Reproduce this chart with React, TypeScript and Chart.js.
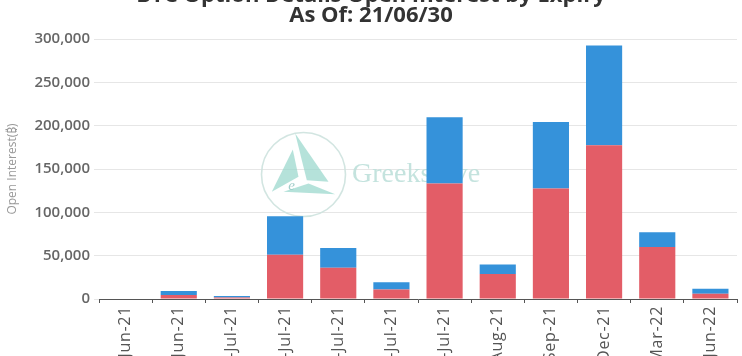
import React, { useEffect, useRef } from "react";
import { Chart, registerables } from "chart.js";

Chart.register(...registerables);

const titleLines = ["BTC Option Details Open Interest by Expiry", "As Of: 21/06/30"];
const expiries = [
  "29-Jun-21", "30-Jun-21", "1-Jul-21", "2-Jul-21", "9-Jul-21", "16-Jul-21",
  "30-Jul-21", "27-Aug-21", "24-Sep-21", "31-Dec-21", "25-Mar-22", "24-Jun-22",
];
const redValues = [0, 4600, 1800, 51100, 36100, 11000, 133300, 28900, 127500, 177300, 60000, 6000];
const blueValues = [0, 4700, 1700, 44400, 22700, 8400, 76400, 11000, 76800, 115300, 17000, 5800];
const yTitle = "Open Interest(₿)";
const watermarkText = "Greeks.live";

const FONT = "'Open Sans', 'Noto Sans', 'DejaVu Sans', sans-serif";

const watermarkPlugin = {
  id: "watermark",
  afterLayout(chart: any) {
    const xs = chart.scales.x;
    if (xs && !xs.__spaced) {
      const orig = xs.drawLabels;
      xs.drawLabels = function (area: any) {
        const ctx = this.ctx;
        ctx.save();
        (ctx as any).letterSpacing = "0.7px";
        orig.call(this, area);
        ctx.restore();
      };
      xs.__spaced = true;
    }
  },
  beforeDatasetsDraw(chart: any) {
    const { ctx, chartArea: a } = chart;
    const cx = a.left + 204.5;
    const cy = a.top + 135.5;
    ctx.save();
    ctx.beginPath();
    ctx.arc(cx, cy, 42, 0, Math.PI * 2);
    ctx.strokeStyle = "rgba(205, 226, 222, 0.9)";
    ctx.lineWidth = 1.6;
    ctx.stroke();
    const tris = [
      [[-31.7, 17.3], [-10.7, -25], [-5, 2.3]],
      [[-8.3, -41], [25, 7.3], [3.3, 5.7]],
      [[-20, 17.3], [31.7, 19.7], [5, 9]],
    ];
    ctx.fillStyle = "rgba(150, 214, 203, 0.7)";
    for (const t of tris) {
      ctx.beginPath();
      ctx.moveTo(cx + t[0][0], cy + t[0][1]);
      ctx.lineTo(cx + t[1][0], cy + t[1][1]);
      ctx.lineTo(cx + t[2][0], cy + t[2][1]);
      ctx.closePath();
      ctx.fill();
    }
    ctx.fillStyle = "rgba(150, 200, 195, 0.9)";
    ctx.font = "italic 15px 'Liberation Serif', serif";
    ctx.textAlign = "center";
    ctx.textBaseline = "middle";
    ctx.fillText("e", cx - 12, cy + 12);
    ctx.fillStyle = "rgba(190, 224, 218, 0.9)";
    ctx.font = "28px 'Liberation Serif', serif";
    ctx.textAlign = "left";
    ctx.textBaseline = "alphabetic";
    ctx.fillText(watermarkText, cx + 48.5, cy + 7.5);
    ctx.restore();
  },
};

export default function App() {
  const ref = useRef<HTMLCanvasElement | null>(null);
  useEffect(() => {
    if (!ref.current) return;
    const chart = new Chart(ref.current, {
      type: "bar",
      data: {
        labels: expiries,
        datasets: [
          { label: "Red", data: redValues, backgroundColor: "#e35d67", barPercentage: 0.68, categoryPercentage: 1 },
          { label: "Blue", data: blueValues, backgroundColor: "#3592da", barPercentage: 0.68, categoryPercentage: 1 },
        ],
      },
      options: {
        responsive: false,
        animation: false,
        layout: { padding: { left: 5, right: 5, top: 0, bottom: 0 } },
        plugins: {
          legend: { display: false },
          tooltip: { enabled: false },
          title: {
            display: true,
            text: titleLines,
            color: "#333",
            font: { family: FONT, size: 22, weight: "700", lineHeight: 20 / 22 },
            padding: { top: 0, bottom: 13 },
          },
        },
        scales: {
          x: {
            stacked: true,
            afterFit: (s: any) => { s.height = 70; },
            grid: { drawOnChartArea: false, drawTicks: true, tickLength: 4, color: "#555" },
            border: { display: true, color: "#555" },
            ticks: {
              minRotation: 90, maxRotation: 90, padding: 3,
              color: "#555",
              font: { family: FONT, size: 16 },
            },
          },
          y: {
            stacked: true,
            min: 0,
            max: 300000,
            afterFit: (s: any) => { s.width = 94; },
            grid: { color: "#e6e6e6", tickLength: 5 },
            border: { display: false },
            ticks: {
              stepSize: 50000,
              padding: 4,
              color: "#666",
              font: { family: FONT, size: 15, weight: "600" },
              callback: (v: any) => Number(v).toLocaleString("en-US"),
            },
            title: {
              display: true,
              text: yTitle,
              color: "#999",
              font: { family: FONT, size: 12 },
              padding: { top: 0, bottom: 0 },
            },
          },
        },
      },
      plugins: [watermarkPlugin],
    } as any);
    return () => chart.destroy();
  }, []);
  return (
    <div style={{ position: "fixed", top: 0, left: 0, width: 742, height: 356, overflow: "hidden", background: "#fff" }}>
      <canvas ref={ref} width={742} height={383} style={{ position: "absolute", top: -14, left: 0, width: 742, height: 383 }} />
    </div>
  );
}
